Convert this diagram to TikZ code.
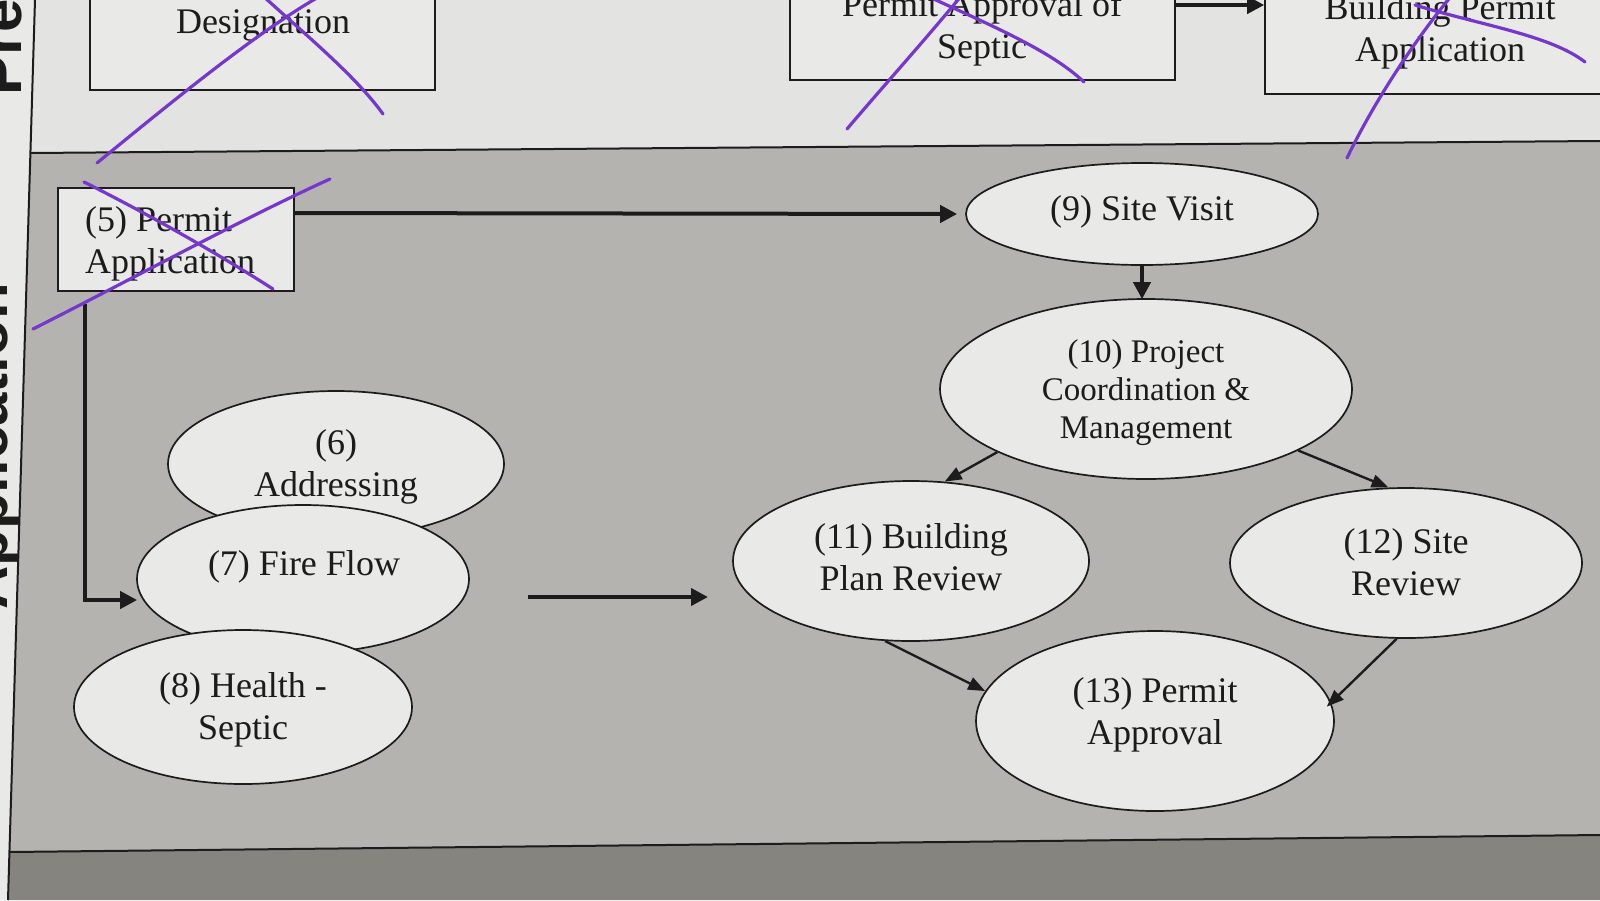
\documentclass[tikz,border=0pt]{standalone}
\usepackage{fontspec}
\setmainfont{Liberation Serif}
\newfontfamily\sidefont{Liberation Sans}
\usetikzlibrary{shapes.geometric,arrows.meta}
\definecolor{paperw}{HTML}{E3E3E1}
\definecolor{band}{HTML}{B5B3B0}
\definecolor{darkband}{HTML}{86847F}
\definecolor{strip}{HTML}{E9E9E8}
\definecolor{boxfill}{HTML}{E9E9E7}
\definecolor{ink}{HTML}{1C1C1C}
\definecolor{pen}{HTML}{7538CC}
\tikzset{
  txt/.style={font=\fontsize{36}{42}\selectfont, text=ink, align=center, inner sep=0pt},
  bubble/.style={ellipse, draw=ink, line width=1.7pt, fill=boxfill, inner sep=0pt},
  rectbox/.style={draw=ink, line width=1.6pt, fill=boxfill, inner sep=0pt},
  thickarr/.style={line width=4pt, draw=ink, -{Triangle[length=17pt,width=17pt]}},
  thinarr/.style={line width=2.4pt, draw=ink, -{Triangle[length=17pt,width=13pt]}},
  penline/.style={line width=3.2pt, draw=pen, line cap=round},
  sidetxt/.style={font=\sidefont\bfseries\fontsize{60}{60}\selectfont, text=ink, rotate=90, inner sep=0pt}
}
\begin{document}
\begin{tikzpicture}[x=1pt,y=-1pt]
\useasboundingbox (0,0) rectangle (1600,900);
\clip (0,0) rectangle (1600,900);
% backgrounds
\fill[paperw] (35,0) -- (1600,0) -- (1600,141) -- (30,153) -- cycle;
\fill[band] (30,153) -- (1600,141) -- (1600,835) -- (9.5,852) -- cycle;
\fill[darkband] (9.5,852) -- (1600,835) -- (1600,900) -- (8,900) -- cycle;
\fill[strip] (0,0) -- (35,0) -- (8,900) -- (0,900) -- cycle;
% side labels (cut off by the page edge)
\begin{scope}
\clip (0,0) -- (33,0) -- (8,900) -- (0,900) -- cycle;
\node[sidetxt, anchor=south west] (sidepre) at (22,96) {Pre};
\node[sidetxt, anchor=south west] (sideapp) at (20,610) {Application};
\end{scope}
% frame lines
\draw[ink, line width=2pt] (35,0) -- (8,900);
\draw[ink, line width=2pt] (30,153) -- (1600,141);
\draw[ink, line width=2pt] (9.5,852) -- (1600,835);

% top row boxes
\node[rectbox, minimum width=345pt, minimum height=110pt] (desig) at (262.5,35) {};
\node[txt] (desigt) at (263,25) {Designation};
\node[rectbox, minimum width=385pt, minimum height=100pt] (sep) at (982.5,30) {};
\node[txt] (sept) at (982,29) {Permit Approval of\\Septic};
\node[rectbox, minimum width=345pt, minimum height=114pt] (bpa) at (1437.5,37) {};
\node[txt] (bpat) at (1440,32) {Building Permit\\Application};
\draw[thickarr] ([yshift=25pt]sep.east) -- ([yshift=32pt]bpa.west);

% (5) box
\node[rectbox, minimum width=236pt, minimum height=103pt] (p5) at (176,239.5) {};
\node[txt, align=left, anchor=west] (p5t) at (85,244) {(5) Permit\\Application};

% ellipses
\node[bubble, minimum width=352pt, minimum height=102pt] (e9) at (1142,214) {};
\node[txt] (e9t) at ([yshift=2pt]e9) {(9) Site Visit};
\node[bubble, minimum width=412pt, minimum height=180pt] (e10) at (1146,389) {};
\node[txt, font=\fontsize{33}{38}\selectfont] (e10t) at ([yshift=-4pt]e10) {(10) Project\\Coordination \&\\Management};
\node[bubble, minimum width=356pt, minimum height=160pt] (e11) at (911,561) {};
\node[txt] (e11t) at ([yshift=4pt]e11) {(11) Building\\Plan Review};
\node[bubble, minimum width=352pt, minimum height=150pt] (e12) at (1406,563) {};
\node[txt] (e12t) at ([yshift=1pt]e12) {(12) Site\\Review};
\node[bubble, minimum width=358pt, minimum height=180pt] (e13) at (1155,721) {};
\node[txt] (e13t) at ([yshift=6pt]e13) {(13) Permit\\Approval};
\node[bubble, minimum width=336pt, minimum height=146pt] (e6) at (336,464) {};
\node[txt] (e6t) at ([yshift=-3pt]e6) {(6)\\Addressing};
\node[bubble, minimum width=332pt, minimum height=148pt] (e7) at (303,579) {};
\node[txt] (e7t) at (304,567) {(7) Fire Flow};
\node[bubble, minimum width=338pt, minimum height=154pt] (e8) at (243,707) {};
\node[txt] (e8t) at ([yshift=-3pt]e8) {(8) Health -\\Septic};

% connectors
\draw[thickarr] ([yshift=26.5pt]p5.east) -- ([xshift=-8pt]e9.west);
\draw[thickarr] ([xshift=28pt,yshift=-12pt]p5.south west) |- ([xshift=1pt,yshift=-21pt]e7.west);
\draw[thickarr, shorten >=-1pt] (e9.south) -- (e9.south |- e10.north);
\coordinate (g1) at (528,597);
\coordinate (g2) at (708,597);
\draw[thickarr] (g1) -- (g2);
\draw[thinarr] (e10.203) -- (e11.67);
\draw[thinarr] (e10.-22) -- (e12.103);
\draw[thinarr] (e11.-108) -- (e13.170);
\draw[thinarr, shorten >=-6pt] (e12.-97) -- (e13.6);

% pen crossings
\draw[penline] (97,163) .. controls (180,95) and (260,30) .. (322,-5);
\draw[penline] (262,-5) .. controls (300,30) and (355,75) .. (383,114);
\draw[penline] (847,129) .. controls (880,90) and (925,40) .. (962,-5);
\draw[penline] (925,-5) .. controls (990,25) and (1050,50) .. (1084,82);
\draw[penline] (1347,158) .. controls (1375,100) and (1415,40) .. (1452,-5);
\draw[penline] (1415,5) .. controls (1480,25) and (1550,35) .. (1585,62);
\draw[penline] (84,182) .. controls (150,215) and (220,255) .. (273,289);
\draw[penline] (33,329) .. controls (130,280) and (240,220) .. (330,179);
\end{tikzpicture}
\end{document}
